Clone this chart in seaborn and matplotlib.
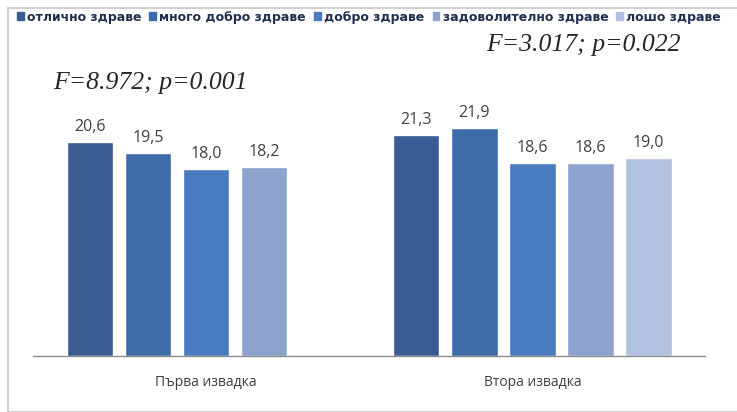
import numpy as np
import pandas as pd
import matplotlib
matplotlib.use("Agg")
import matplotlib.pyplot as plt
from matplotlib.patches import Rectangle
import seaborn as sns

groups = ["Първа извадка", "Втора извадка"]
health = ["отлично здраве", "много добро здраве", "добро здраве",
          "задоволително здраве", "лошо здраве"]
first_sample = [20.6, 19.5, 18.0, 18.2, np.nan]
second_sample = [21.3, 21.9, 18.6, 18.6, 19.0]
stats_text = ["F=8.972; p=0.001", "F=3.017; p=0.022"]
colors = ["#3A5C92", "#3E6CA9", "#4A7BBE", "#8CA4CD", "#B2C1DF"]

rows = []
for g, vals in zip(groups, [first_sample, second_sample]):
    for h, v in zip(health, vals):
        rows.append({"group": g, "health": h, "value": v})
df = pd.DataFrame(rows)

sns.set_theme(style="white")
plt.rcParams["font.family"] = ["Open Sans", "DejaVu Sans"]

fig = plt.figure(figsize=(7.37, 4.12), dpi=100)
fig.patch.set_facecolor("white")
ax = fig.add_axes([0.045, 0.136, 0.912, 0.757])

sns.barplot(data=df.dropna(), x="group", y="value", hue="health",
            order=groups, hue_order=health, palette=colors,
            errorbar=None, width=0.89, gap=0.2, saturation=1,
            ax=ax, legend=False)

for container in ax.containers:
    labels = [f"{b.get_height():.1f}".replace(".", ",") for b in container]
    ax.bar_label(container, labels=labels, padding=5, fontsize=11.5,
                 color="#404040")

ax.set_xlim(-0.53, 1.53)
ax.set_ylim(0, 30)
ax.set_xlabel("")
ax.set_ylabel("")
ax.set_yticks([])
ax.tick_params(axis="x", length=0, pad=14, labelsize=10, labelcolor="#404040")
for side in ["top", "left", "right"]:
    ax.spines[side].set_visible(False)
ax.spines["bottom"].set_color("#8C8C8C")
ax.spines["bottom"].set_linewidth(1.0)
ax.set_facecolor("none")

# F-test annotations
fig.text(150 / 737, 1 - 83 / 412, stats_text[0], ha="center", va="center",
         fontsize=18.5, style="italic", family="Liberation Serif")
fig.text(583 / 737, 1 - 45 / 412, stats_text[1], ha="center", va="center",
         fontsize=18.5, style="italic", family="Liberation Serif")

# legend across the top
handles = [Rectangle((0, 0), 1, 1, color=c) for c in colors]
fig.legend(handles, health, loc="center", bbox_to_anchor=(369 / 737, 1 - 17 / 412),
           ncol=5, frameon=False,
           prop={"size": 9.0, "weight": "bold", "family": "DejaVu Sans"},
           handlelength=0.55, handleheight=0.55, handletextpad=0.25,
           columnspacing=0.65, labelcolor="#1F2F4F")

# light chart frame
fig.patches.append(Rectangle((8 / 737, 0), 1, 1 - 8 / 412, transform=fig.transFigure,
                             fill=False, edgecolor="#D0D0D0", linewidth=1.5))

fig.savefig("out.png", dpi=100)
